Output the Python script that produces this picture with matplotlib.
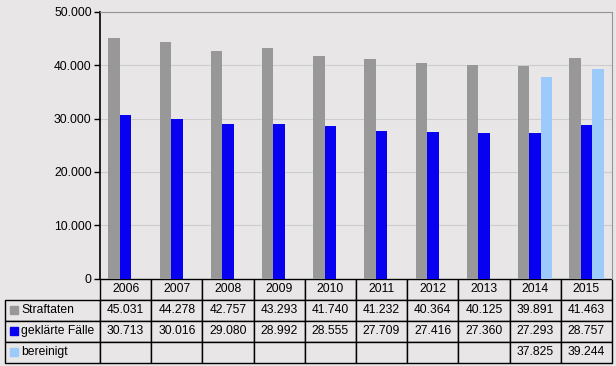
import matplotlib.pyplot as plt
from matplotlib.patches import Rectangle
from matplotlib.ticker import FuncFormatter
import numpy as np

plt.rcParams['font.family'] = ['Liberation Sans', 'DejaVu Sans']

# data
years = ['2006', '2007', '2008', '2009', '2010', '2011', '2012', '2013', '2014', '2015']
straftaten = [45031, 44278, 42757, 43293, 41740, 41232, 40364, 40125, 39891, 41463]
geklaert = [30713, 30016, 29080, 28992, 28555, 27709, 27416, 27360, 27293, 28757]
bereinigt = [None, None, None, None, None, None, None, None, 37825, 39244]
row_names = ['Straftaten', 'geklärte Fälle', 'bereinigt']
colors = ['#989898', '#0800f0', '#9ccafa']
bg = '#e8e6e6'


def fmt(v):
    return '' if v is None else f'{v:,}'.replace(',', '.')


fig = plt.figure(figsize=(6.16, 3.66), dpi=100, facecolor=bg)
ax = fig.add_axes([100 / 616, 1 - 278.5 / 366, 512 / 616, 266.5 / 366])
ax.set_facecolor(bg)

x = np.arange(len(years))
w = 0.225
ax.bar(x - w, straftaten, w, color=colors[0], zorder=3)
ax.bar(x, geklaert, w, color=colors[1], zorder=3)
bx = [i for i, v in enumerate(bereinigt) if v is not None]
ax.bar(np.array(bx) + w, [bereinigt[i] for i in bx], w, color=colors[2], zorder=3)

ax.set_xlim(-0.5, len(years) - 0.5)
ax.set_ylim(0, 50000)
ax.set_yticks(range(0, 50001, 10000))
ax.yaxis.set_major_formatter(FuncFormatter(lambda v, p: fmt(int(v))))
ax.tick_params(axis='y', length=4, width=1, labelsize=8.7, pad=2, color='black')
ax.set_xticks([])
ax.grid(axis='y', color='#cdcdcd', linewidth=0.8, zorder=0)

ax.spines['left'].set_color('black')
ax.spines['left'].set_linewidth(1.2)
ax.spines['top'].set_color('#959595')
ax.spines['right'].set_color('#959595')
ax.spines['bottom'].set_visible(False)

# table below the plot
cell_text = [[''] + [fmt(v) for v in straftaten],
             [''] + [fmt(v) for v in geklaert],
             [''] + [fmt(v) for v in bereinigt]]
col_w = [95] + [51.2] * len(years)
tb = ax.table(cellText=cell_text, colLabels=[''] + years, colWidths=col_w,
              cellLoc='center', bbox=[-95 / 512, -84.5 / 266.5, 607 / 512, 84.5 / 266.5])
tb.auto_set_font_size(False)
tb.set_fontsize(8.7)
for (r, c), cell in tb.get_celld().items():
    cell.set_facecolor(bg)
    cell.set_edgecolor('black')
    cell.set_linewidth(1)
    if r == 0 and c == 0:
        cell.visible_edges = ''

# row labels with colour squares
row_h = 84.5 / 4 / 266.5
x0 = -95 / 512
for i, (name, col) in enumerate(zip(row_names, colors)):
    yc = -84.5 / 266.5 + row_h * (2.5 - i)
    ax.add_patch(Rectangle((x0 + 5 / 512, yc - 4 / 266.5), 8 / 512, 8 / 266.5,
                           color=col, transform=ax.transAxes, clip_on=False))
    ax.text(x0 + 16 / 512, yc, name, transform=ax.transAxes, fontsize=8.7,
            va='center', ha='left')

fig.savefig('out.png', dpi=100, facecolor=bg)
